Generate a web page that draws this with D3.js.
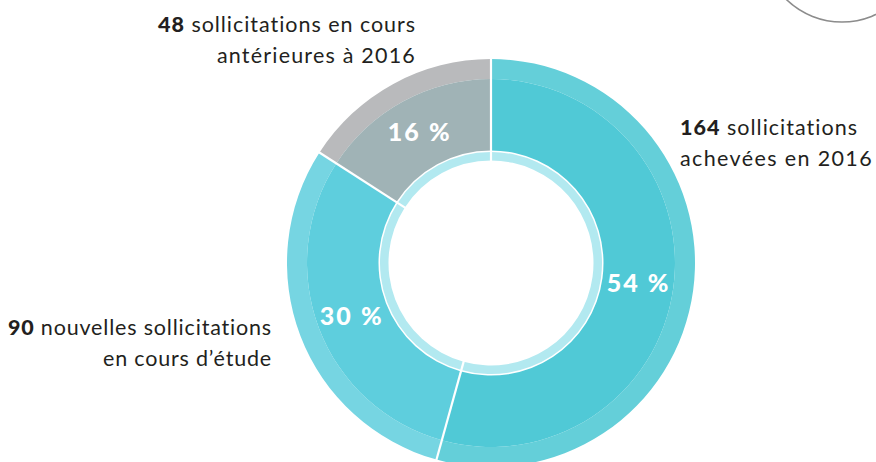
<!DOCTYPE html>
<html><head><meta charset="utf-8">
<script src="https://cdn.jsdelivr.net/npm/d3@7"></script>
<style>html,body{margin:0;padding:0;background:#fff;}svg{display:block;} text{font-variant-ligatures:none;}</style>
</head><body>
<svg id="chart" width="876" height="462"></svg>
<script>
const categories = ["achevées en 2016", "nouvelles en cours d'étude", "en cours antérieures à 2016"];
const counts = [164, 90, 48];
const percentLabels = ["54 %", "30 %", "16 %"];
const labelNumbers = ["164", "90", "48"];
const labelLine1 = [" sollicitations", " nouvelles sollicitations", " sollicitations en cours"];
const labelLine2 = ["achevées en 2016", "en cours d’étude", "antérieures à 2016"];

const mainColors = ["#50c9d6", "#5ecedd", "#a0b3b6"];
const bandColors = ["#64cfd9", "#76d5e2", "#b9babc"];
const ringColor = "#b2e9f0";

const svg = d3.select("#chart");
const cx = 491, cy = 263;
const g = svg.append("g").attr("transform", `translate(${cx},${cy})`);

const pie = d3.pie().sort(null).value(d => d).startAngle(0).endAngle(2 * Math.PI);
const arcsData = pie(counts);

const arcMain = d3.arc().innerRadius(112.5).outerRadius(184);
const arcBand = d3.arc().innerRadius(184).outerRadius(204);
const arcRing = d3.arc().innerRadius(102.5).outerRadius(111);

g.selectAll("path.band").data(arcsData).join("path").attr("class", "band")
  .attr("d", arcBand).attr("fill", (d, i) => bandColors[i]);
g.selectAll("path.main").data(arcsData).join("path").attr("class", "main")
  .attr("d", arcMain).attr("fill", (d, i) => mainColors[i]);
g.selectAll("path.ring").data(arcsData).join("path").attr("class", "ring")
  .attr("d", arcRing).attr("fill", ringColor);

g.selectAll("line.sep").data(arcsData).join("line").attr("class", "sep")
  .attr("x1", d => 100 * Math.sin(d.startAngle)).attr("y1", d => -100 * Math.cos(d.startAngle))
  .attr("x2", d => 206 * Math.sin(d.startAngle)).attr("y2", d => -206 * Math.cos(d.startAngle))
  .attr("stroke", "#fff").attr("stroke-width", 2.2);

function fitWidth(sel, target) {
  sel.attr("letter-spacing", 0);
  const n = sel.text().length;
  const w = sel.node().getComputedTextLength();
  sel.attr("letter-spacing", ((target - w) / n).toFixed(2));
}

const labelArc = d3.arc().innerRadius(149).outerRadius(149);
g.selectAll("text.pct").data(arcsData).join("text").attr("class", "pct")
  .attr("transform", d => `translate(${labelArc.centroid(d)})`)
  .attr("text-anchor", "middle").attr("dy", "0.36em")
  .attr("fill", "#fff").attr("font-family", "Lato, 'Open Sans', sans-serif")
  .attr("font-weight", 900).attr("font-size", 25)
  .text((d, i) => percentLabels[i])
  .each(function () { fitWidth(d3.select(this), 64); });

const labelPos = [
  {x: 680, y: 135, anchor: "start", w: [178, 193]},
  {x: 272, y: 335, anchor: "end", w: [264, 169]},
  {x: 416, y: 32, anchor: "end", w: [258, 199]}
];
const lineGap = 31;
categories.forEach((c, i) => {
  const p = labelPos[i];
  const t1 = svg.append("text").attr("font-family", "Lato, 'Open Sans', sans-serif")
    .attr("font-size", 21.5).attr("fill", "#231f20").attr("text-anchor", p.anchor)
    .attr("x", p.x).attr("y", p.y);
  t1.append("tspan").attr("font-weight", 900).text(labelNumbers[i]);
  t1.append("tspan").attr("font-weight", 400).text(labelLine1[i]);
  fitWidth(t1, p.w[0]);
  const t2 = svg.append("text").attr("font-family", "Lato, 'Open Sans', sans-serif")
    .attr("font-size", 21.5).attr("fill", "#231f20").attr("text-anchor", p.anchor)
    .attr("x", p.x).attr("y", p.y + lineGap).attr("font-weight", 400).text(labelLine2[i]);
  fitWidth(t2, p.w[1]);
});

svg.append("circle").attr("cx", 842).attr("cy", -58).attr("r", 80)
  .attr("fill", "none").attr("stroke", "#8c8c8c").attr("stroke-width", 1.6);
</script>
</body></html>
